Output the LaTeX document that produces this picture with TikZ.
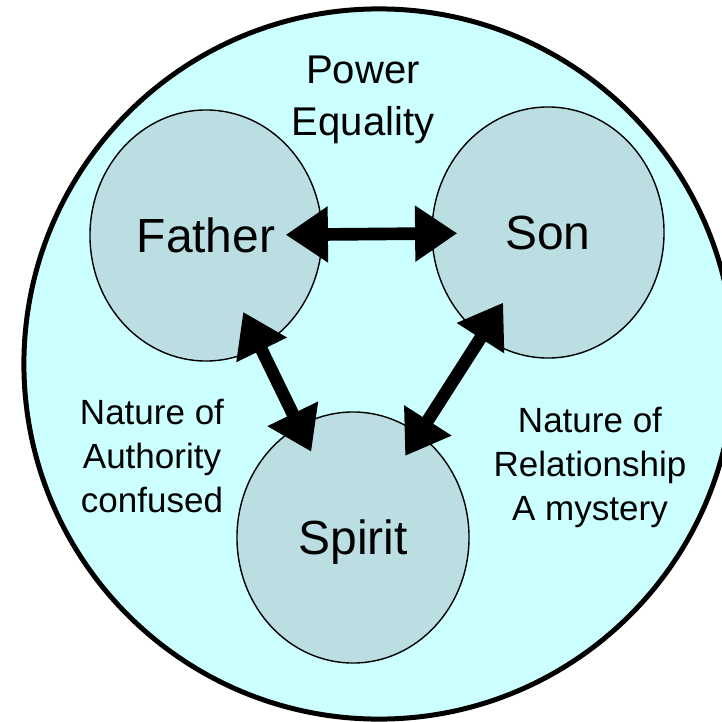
\documentclass[tikz,border=0pt]{standalone}
\usepackage{fontspec}
\setmainfont{Liberation Sans}
\usepackage{tikz}
\usepackage{xcolor}
\usetikzlibrary{
    arrows.meta,
    shapes.geometric,
    positioning
}
\definecolor{skyfill}{RGB}{204,255,255}
\definecolor{ballfill}{RGB}{186,222,225}
\newcommand{\bigtxt}{\fontsize{34.1pt}{40pt}\selectfont}
\newcommand{\toptxt}{\fontsize{28.5pt}{37pt}\selectfont}
\newcommand{\sidetxt}{\fontsize{24.9pt}{31.3pt}\selectfont}

\begin{document}
\begin{tikzpicture}[x=0.025cm, y=-0.025cm,
    person/.style={ellipse, draw, line width=1pt, fill=ballfill,
        minimum width=5.8cm, minimum height=6.275cm, inner sep=0pt,
        text depth=0pt, font=\bigtxt},
    link/.style={line width=9pt,
        {Triangle[length=30pt,width=38pt]}-{Triangle[length=30pt,width=38pt]}}]
                            \fill[white] (0, 0) rectangle (722, 722);
                            \useasboundingbox (0, 0) rectangle (722, 722);
                            \draw[line width=3.55pt, fill=skyfill] (379, 364) circle[radius=8.875cm];
                            \node[person] (father) at (206, 235.5) {Father};
                            \node[person] (son) at (548, 232.5) {Son};
                            \node[person] (spirit) at (353, 537.5) {Spirit};
                            \node[font=\toptxt, align=center] (power) at (363, 99.5) {Power\\Equality};
                            \node[font=\sidetxt, align=center] (authority) at (152, 456) {Nature of\\Authority\\confused};
                            \node[font=\sidetxt, align=center] (mystery) at (590, 467.6) {Nature of\\Relationship\\A mystery};
                            \draw
                            (father) edge[link, shorten <=-0.925cm, shorten >=-0.65cm] (son)
                            (father) edge[link, shorten <=-0.98cm, shorten >=-0.72cm] (spirit)
                            (son) edge[link, shorten <=-1cm, shorten >=-0.66cm] (spirit);
                        \end{tikzpicture}
\end{document}
